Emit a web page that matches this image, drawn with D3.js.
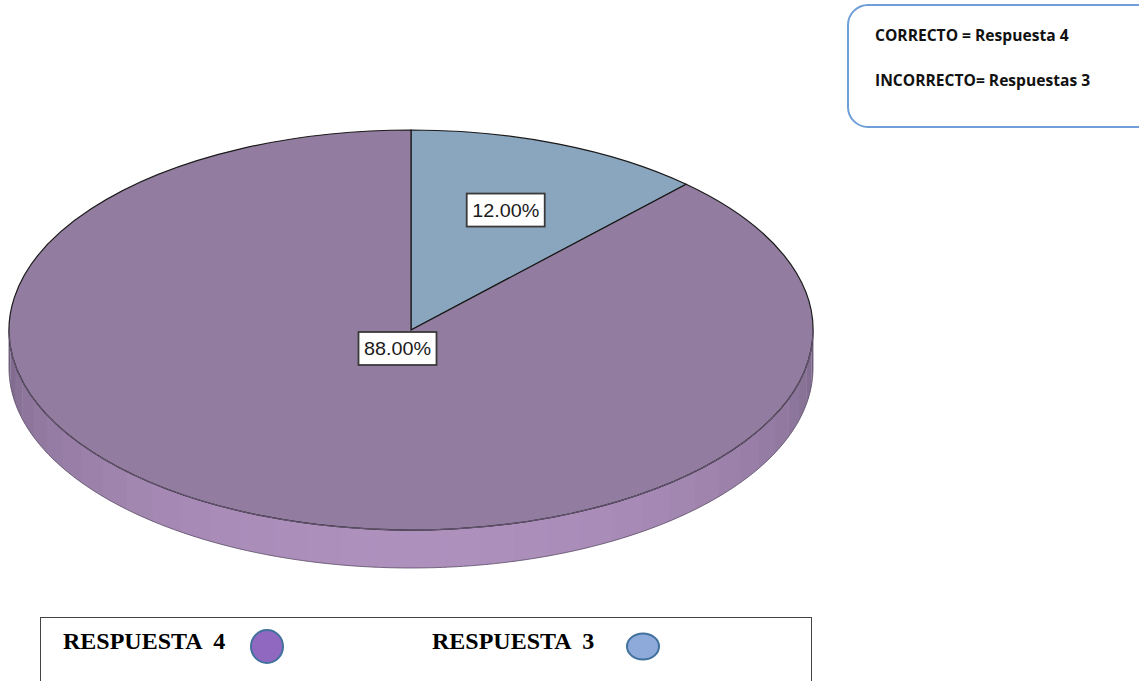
<!DOCTYPE html>
<html>
<head>
<meta charset="utf-8">
<script src="https://cdn.jsdelivr.net/npm/d3@7"></script>
<style>
  html, body { margin: 0; padding: 0; background: #fff; }
  svg { display: block; }
</style>
</head>
<body>
<svg id="chart" width="1139" height="681"></svg>
<script>
// Answer shares, in drawing order (clockwise from 12 o'clock)
const categories = ["RESPUESTA 3", "RESPUESTA 4"];
const values = [12, 88];
const labels = ["12.00%", "88.00%"];
const sliceColors = ["#89a6be", "#927c9f"];

// Legend entries (left to right)
const legendNames = ["RESPUESTA 4", "RESPUESTA 3"];
const legendColors = ["#9168c0", "#8eaadb"];

// Note box lines
const noteLines = ["CORRECTO = Respuesta 4", "INCORRECTO= Respuestas 3"];

const svg = d3.select("#chart");

// Pie geometry: elliptical top face with a thin extruded rim
const cx = 411, cy = 330, rx = 402, ry = 200, depth = 38;
const k = ry / rx;

const pieData = d3.pie().sort(null).value(d => d)(values);

// Point on the top ellipse for a d3 pie angle (0 = up, clockwise)
const ept = (a, dy = 0) => [cx + rx * Math.sin(a), cy - ry * Math.cos(a) + dy];

// Front rim, drawn as narrow facets shaded darker toward the sides
const rimDark = d3.color("#786586"), rimLight = d3.color("#ae90bd");
const shade = d3.interpolateRgb(rimDark, rimLight);
const nFacets = 36;
const a0 = Math.PI / 2, a1 = 3 * Math.PI / 2;
const rimG = svg.append("g");
for (let i = 0; i < nFacets; i++) {
  const s = a0 + (a1 - a0) * i / nFacets;
  const e = a0 + (a1 - a0) * (i + 1) / nFacets + 0.004;
  const m = (s + e) / 2;
  const t = Math.pow(Math.max(0, -Math.cos(m)), 0.8);
  const steps = d3.range(0, 9).map(j => s + (e - s) * j / 8);
  const upper = steps.map(a => ept(a));
  const lower = steps.slice().reverse().map(a => ept(a, depth));
  rimG.append("path")
    .attr("d", d3.line()(upper.concat(lower)) + "Z")
    .attr("fill", shade(t));
}
// Rim outline (bottom edge and sides)
const rimEdge = d3.range(0, 121).map(j => ept(a0 + (a1 - a0) * j / 120, depth));
rimG.append("path")
  .attr("d", d3.line()([ept(a0)].concat(rimEdge, [ept(a1)])))
  .attr("fill", "none")
  .attr("stroke", "#5a4d66")
  .attr("stroke-width", 0.8);

// Top face slices: circular arcs squashed into an ellipse
const arc = d3.arc().innerRadius(0).outerRadius(rx);
const face = svg.append("g")
  .attr("transform", `translate(${cx},${cy}) scale(1,${k})`);
face.selectAll("path.slice")
  .data(pieData)
  .join("path")
  .attr("class", "slice")
  .attr("d", arc)
  .attr("fill", (d, i) => sliceColors[i])
  .attr("stroke", "#1a1a1a")
  .attr("stroke-width", 1.2)
  .attr("vector-effect", "non-scaling-stroke");

// Front edge of the top face drawn softer
const frontEdge = d3.range(0, 121).map(j => ept(a0 + (a1 - a0) * j / 120));
svg.append("path")
  .attr("d", d3.line()(frontEdge))
  .attr("fill", "none")
  .attr("stroke", "#6a5a78")
  .attr("stroke-width", 1);

// Value labels in boxed callouts
const labelPos = [
  (d) => { const m = (d.startAngle + d.endAngle) / 2; return [cx + rx * 0.64 * Math.sin(m), cy - ry * 0.645 * Math.cos(m)]; },
  () => [cx - 13.5, cy + 18.5]
];
pieData.forEach((d, i) => {
  const [lx, ly] = labelPos[i](d);
  const g = svg.append("g").attr("transform", `translate(${lx},${ly})`);
  g.append("rect")
    .attr("x", -39)
    .attr("y", -16.5)
    .attr("width", 78)
    .attr("height", 33)
    .attr("fill", "#fff")
    .attr("stroke", "#3a3a3a")
    .attr("stroke-width", 1.8);
  g.append("text")
    .attr("text-anchor", "middle")
    .attr("dy", "0.36em")
    .attr("transform", "scale(1.1,1)")
    .attr("font-family", "Liberation Sans, Arial, sans-serif")
    .attr("font-size", 18)
    .attr("fill", "#1a1a1a")
    .text(labels[i]);
});

// Note box, top right
svg.append("rect")
  .attr("x", 848).attr("y", 5)
  .attr("width", 320).attr("height", 122)
  .attr("rx", 20)
  .attr("fill", "#fff")
  .attr("stroke", "#6f9ed8")
  .attr("stroke-width", 2);
svg.selectAll("text.note")
  .data(noteLines)
  .join("text")
  .attr("class", "note")
  .attr("x", 875)
  .attr("y", (d, i) => 40.5 + i * 45)
  .attr("font-family", "Open Sans, Liberation Sans, sans-serif")
  .attr("font-weight", "bold")
  .attr("font-size", 15.6)
  .attr("fill", "#111")
  .text(d => d);

// Legend box, bottom
svg.append("rect")
  .attr("x", 40.5).attr("y", 617.5)
  .attr("width", 771).attr("height", 100)
  .attr("fill", "#fff")
  .attr("stroke", "#444")
  .attr("stroke-width", 1);
const legX = d3.scalePoint().domain(legendNames).range([63, 432]);
const leg = svg.selectAll("g.leg")
  .data(legendNames)
  .join("g")
  .attr("class", "leg")
  .attr("transform", d => `translate(${legX(d)},0)`);
leg.append("text")
  .attr("x", 0).attr("y", 649)
  .attr("font-family", "Liberation Serif, Times New Roman, serif")
  .attr("font-weight", "bold")
  .attr("font-size", 24)
  .attr("fill", "#000")
  .style("white-space", "pre")
  .text(d => d.replace(" ", "  "));
leg.append("ellipse")
  .attr("cx", (d, i) => i === 0 ? 204 : 211)
  .attr("cy", 646.5)
  .attr("rx", 16)
  .attr("ry", (d, i) => i === 0 ? 16.5 : 13)
  .attr("fill", (d, i) => legendColors[i])
  .attr("stroke", "#41719c")
  .attr("stroke-width", 2);
</script>
</body>
</html>
